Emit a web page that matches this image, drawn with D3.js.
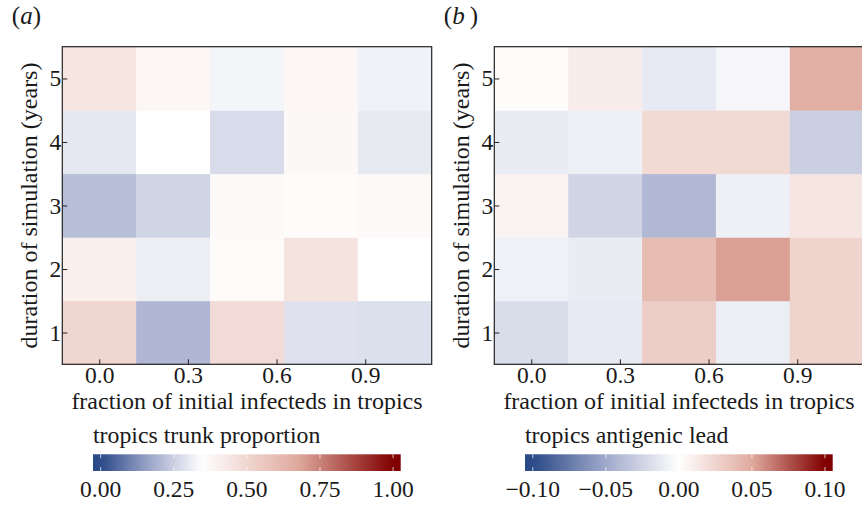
<!DOCTYPE html>
<html>
<head>
<meta charset="utf-8">
<script src="https://cdn.jsdelivr.net/npm/d3@7"></script>
<style>
  html, body { margin: 0; padding: 0; background: #fff; }
  svg text { font-family: "Liberation Serif", "DejaVu Serif", serif; fill: #1a1a1a; }
</style>
</head>
<body>
<svg id="chart" width="862" height="506"></svg>
<script>
// Grid axes: fraction of initial infecteds seeded in the tropics, and run length in years
const fractions = [0, 0.25, 0.5, 0.75, 1.0];
const durations = [1, 2, 3, 4, 5];
const xTicks = [0, 0.3, 0.6, 0.9];

// Rows follow durations (1..5), columns follow fractions
const trunkProportion = [
  [0.503, 0.201, 0.484, 0.287, 0.281],
  [0.407, 0.310, 0.362, 0.453, 0.345],
  [0.216, 0.260, 0.370, 0.360, 0.370],
  [0.298, 0.345, 0.274, 0.372, 0.303],
  [0.445, 0.380, 0.325, 0.380, 0.318]
];
const antigenicLead = [
  [-0.020, -0.012,  0.029, -0.010,  0.026],
  [-0.008, -0.011,  0.039,  0.053,  0.026],
  [ 0.007, -0.025, -0.041, -0.009,  0.015],
  [-0.011, -0.009,  0.022,  0.022, -0.028],
  [ 0.002,  0.011, -0.012, -0.005,  0.047]
];

const trunkTicks = [0, 0.25, 0.5, 0.75, 1.0];
const leadTicks = [-0.10, -0.05, 0, 0.05, 0.10];

// diverging palette: dark blue -> white -> dark red
const palette = ["#2b4a88", "#a0a9cb", "#ffffff", "#e0aa9e", "#800000"];
function divergingScale(lo, mid, hi) {
  return d3.scaleLinear()
    .domain([lo, (lo + mid) / 2, mid, (mid + hi) / 2, hi])
    .range(palette)
    .interpolate(d3.interpolateRgb)
    .clamp(true);
}

const svg = d3.select("#chart");

const plotW = 369.4, plotH = 317.6, plotTop = 46.7;
const fontTick = 23.5, fontTitle = 24;

function heatmap(opts) {
  const { left, data, color, label, cbTitle, cbTicks, cbFormat, cbLeft, cbDomain } = opts;
  const g = svg.append("g").attr("transform", `translate(${left},${plotTop})`);

  const x = d3.scaleLinear().domain([-0.125, 1.125]).range([0, plotW]);
  const y = d3.scaleLinear().domain([0.5, 5.5]).range([plotH, 0]);
  const cellW = x(fractions[1]) - x(fractions[0]);
  const cellH = y(durations[0]) - y(durations[1]);

  const cells = [];
  durations.forEach((d, i) => fractions.forEach((f, j) => cells.push({ f, d, v: data[i][j] })));

  g.selectAll("rect.cell").data(cells).join("rect")
    .attr("class", "cell")
    .attr("x", c => x(c.f) - cellW / 2)
    .attr("y", c => y(c.d) - cellH / 2)
    .attr("width", cellW + 0.4)
    .attr("height", cellH + 0.4)
    .attr("fill", c => color(c.v));

  const xAxis = g.append("g").attr("transform", `translate(0,${plotH})`)
    .call(d3.axisBottom(x).tickValues(xTicks).tickFormat(d3.format(".1f"))
      .tickSizeInner(-5).tickSizeOuter(0).tickPadding(2.5));
  const yAxis = g.append("g")
    .call(d3.axisLeft(y).tickValues(durations).tickFormat(d3.format("d"))
      .tickSizeInner(-5).tickSizeOuter(0).tickPadding(1));
  [xAxis, yAxis].forEach(a => {
    a.select(".domain").remove();
    a.selectAll(".tick line").attr("stroke", "#222").attr("stroke-width", 1);
    a.selectAll(".tick text").style("font-size", fontTick + "px")
      .style("font-family", '"Liberation Serif", serif').attr("fill", "#1a1a1a");
  });

  g.append("rect").attr("width", plotW).attr("height", plotH)
    .attr("fill", "none").attr("stroke", "#222").attr("stroke-width", 1.2);

  g.append("text")
    .attr("x", plotW / 2).attr("y", plotH + 45)
    .attr("text-anchor", "middle").style("font-size", fontTitle + "px")
    .text("fraction of initial infecteds in tropics");

  g.append("text")
    .attr("transform", `translate(-25,${plotH / 2}) rotate(-90)`)
    .attr("text-anchor", "middle").style("font-size", fontTitle + "px")
    .text("duration of simulation (years)");

  const lab = svg.append("text")
    .attr("x", left - 50.5).attr("y", 24).style("font-size", "25px");
  lab.append("tspan").text("(");
  lab.append("tspan").style("font-style", "italic").text(label);
  lab.append("tspan").text(label === "b" ? "\u2009)" : ")");

  // colour bar
  const cbW = 307.7, cbTop = 454.3, cbH = 16.7;
  const cx = d3.scaleLinear().domain(cbDomain).range([cbLeft, cbLeft + cbW]);
  const gradId = "grad-" + label;
  const grad = svg.append("defs").append("linearGradient").attr("id", gradId)
    .attr("x1", "0%").attr("x2", "100%").attr("y1", "0%").attr("y2", "0%");
  d3.range(0, 1.0001, 0.02).forEach(t => {
    const v = cbDomain[0] + t * (cbDomain[1] - cbDomain[0]);
    grad.append("stop").attr("offset", (t * 100) + "%").attr("stop-color", color(v));
  });
  svg.append("rect").attr("x", cbLeft).attr("y", cbTop).attr("width", cbW).attr("height", cbH)
    .attr("fill", `url(#${gradId})`);

  const tk = svg.append("g");
  cbTicks.forEach(t => {
    tk.append("line").attr("x1", cx(t)).attr("x2", cx(t)).attr("y1", cbTop).attr("y2", cbTop + 4)
      .attr("stroke", "#fff").attr("stroke-opacity", 0.6).attr("stroke-width", 1.2);
    tk.append("line").attr("x1", cx(t)).attr("x2", cx(t)).attr("y1", cbTop + cbH - 4).attr("y2", cbTop + cbH)
      .attr("stroke", "#fff").attr("stroke-opacity", 0.6).attr("stroke-width", 1.2);
    tk.append("text").attr("x", cx(t)).attr("y", 497).attr("text-anchor", "middle")
      .style("font-size", fontTick + "px").text(cbFormat(t));
  });

  svg.append("text").attr("x", cbLeft).attr("y", 443)
    .style("font-size", "23.8px").text(cbTitle);
}

const fmt2 = v => d3.format(".2f")(v).replace("-", "\u2013");

heatmap({
  left: 62.3, data: trunkProportion, color: divergingScale(0, 0.345, 1), label: "a",
  cbTitle: "tropics trunk proportion", cbTicks: trunkTicks, cbFormat: fmt2,
  cbLeft: 93, cbDomain: [-0.026, 1.026]
});
heatmap({
  left: 494.3, data: antigenicLead, color: divergingScale(-0.1, 0, 0.1), label: "b",
  cbTitle: "tropics antigenic lead", cbTicks: leadTicks, cbFormat: fmt2,
  cbLeft: 525, cbDomain: [-0.1053, 0.1053]
});
</script>
</body>
</html>
